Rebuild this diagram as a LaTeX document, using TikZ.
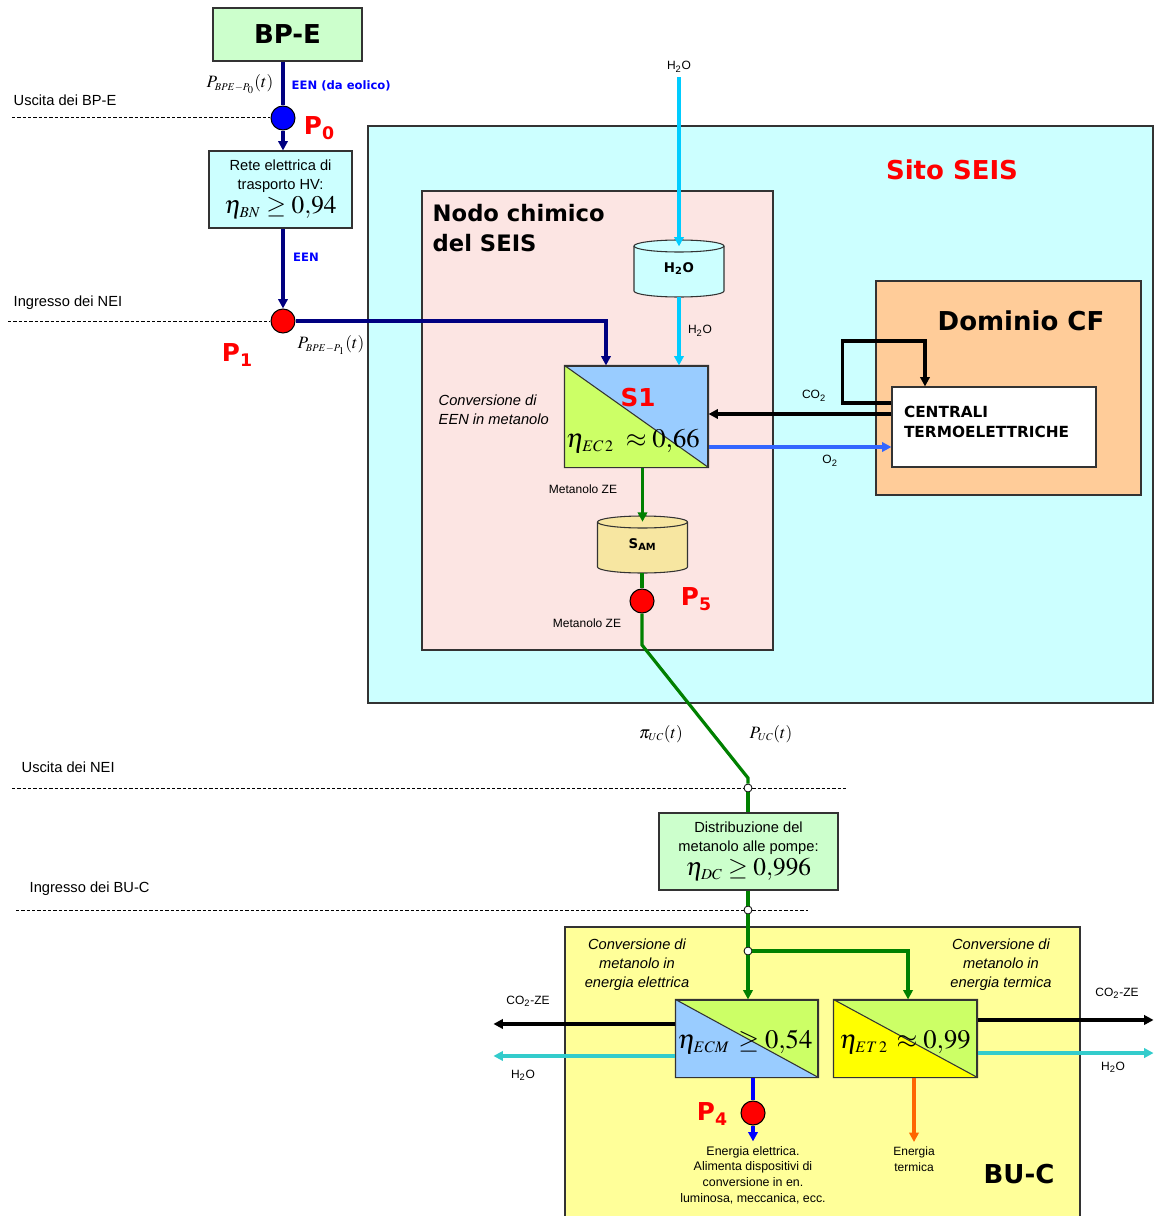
\documentclass[tikz,border=0pt]{standalone}
\usepackage{mathptmx}
\usepackage[no-math]{fontspec}
\setmainfont{Liberation Sans}
\newfontfamily\headfont{DejaVu Sans}
\usepackage{tikz}
\usetikzlibrary{positioning,arrows.meta}

\definecolor{verdino}{HTML}{CCFFCC}
\definecolor{celeste}{HTML}{CCFFFF}
\definecolor{rosa}{HTML}{FCE5E3}
\definecolor{pesca}{HTML}{FFCC99}
\definecolor{giallino}{HTML}{FFFF99}
\definecolor{azzurro}{HTML}{99CCFF}
\definecolor{verdelime}{HTML}{CCFF66}
\definecolor{sabbia}{HTML}{F7E6A1}
\definecolor{navy}{HTML}{000080}
\definecolor{cielo}{HTML}{00CCFF}
\definecolor{bluo}{HTML}{3366FF}
\definecolor{verde}{HTML}{008000}
\definecolor{acqua}{HTML}{33CCCC}
\definecolor{arancio}{HTML}{FF6600}
\definecolor{blu}{HTML}{0000FF}
\definecolor{rosso}{HTML}{FF0000}
\definecolor{giallo}{HTML}{FFFF00}

\newcommand{\nomeP}[1]{{\headfont\bfseries\color{rosso}\fontsize{18.5}{20}\selectfont P\raisebox{-0.22em}{\fontsize{13}{14}\selectfont #1}}}
\newcommand{\serbatoio}[4]{%
    \filldraw[fill=#4, draw=black!80, line width=0.8pt]
        (#1-45,#2) -- (#1-45,#3) arc[start angle=180, end angle=360, x radius=33.75pt, y radius=4.5pt]
        -- (#1+45,#2) arc[start angle=0, end angle=180, x radius=33.75pt, y radius=4.5pt] -- cycle;
    \draw[black!80, line width=0.8pt] (#1-45,#2) arc[start angle=180, end angle=360, x radius=33.75pt, y radius=4.5pt];}

\tikzset{
    box/.style={draw=black!80, line width=0.8pt, inner sep=2pt},
    flow/.style={line width=2.4pt},
    soglia/.style={dash pattern=on 2.5pt off 1.5pt, line width=0.75pt},
    punto/.style={circle, draw, line width=0.8pt, minimum size=18pt, inner sep=0pt},
    nodino/.style={circle, draw, fill=white, line width=0.6pt, minimum size=6pt, inner sep=0pt},
    titolo/.style={font=\headfont\bfseries\fontsize{19.5}{22}\selectfont},
    etich/.style={font=\fontsize{11}{14}\selectfont},
    corsivo/.style={font=\itshape\fontsize{11}{14.25}\selectfont},
    piccolo/.style={font=\fontsize{9}{11.8}\selectfont},
    sigla/.style={font=\headfont\bfseries\fontsize{8.7}{10}\selectfont, text=blu},
    formula/.style={font=\fontsize{20}{22}\selectfont},
    tempo/.style={font=\fontsize{13}{14}\selectfont}
}

\begin{document}
\begin{tikzpicture}[x=0.75pt, y=-0.75pt, >={Triangle[length=7pt,width=7pt]}]
    \useasboundingbox (0,0) rectangle (1154,1216);

    \draw[box, fill=celeste] (368,126) rectangle (1153,703);
    \draw[box, fill=rosa] (422,191) rectangle (773,650);
    \draw[box, fill=pesca] (876,281) rectangle (1141,495);
    \draw[box, fill=giallino] (565,927) rectangle (1080,1220);

    \node[titolo, text=rosso] (seis) at (952,170) {Sito SEIS};
    \node[font=\headfont\bfseries\fontsize{17}{22.5}\selectfont, align=left, anchor=west] (nodo) at (428,228) {Nodo chimico\\del SEIS};
    \node[titolo] (cf) at (1021,321) {Dominio CF};
    \node[titolo] (buc) at (1019,1174) {BU-C};

    \node[box, fill=verdino, minimum width=111.75pt, minimum height=39.75pt, titolo] (bpe) at (287.5,34.5) {BP-E};
    \node[punto, fill=blu] (P0) at (283,118) {};
    \node[box, fill=celeste, minimum width=107.25pt, minimum height=57.75pt, align=center, etich] (rete) at (280.5,189.5)
        {Rete elettrica di\\trasporto HV:\\[2pt]{\fontsize{19}{19}\selectfont$\eta_{\scriptscriptstyle BN}\geq 0{,}94$}};
    \node[punto, fill=rosso] (P1) at (283,321) {};
    \draw[flow, navy] (bpe.south -| P0) -- (P0);
    \draw[flow, navy, ->] (P0) -- (rete.north -| P0);
    \draw[flow, navy, ->] (rete.south -| P1) -- (P1);

    \node[tempo] (pbpe0) at (240,84) {$P_{\scriptscriptstyle BPE-P_0}(t)$};
    \node[sigla, anchor=west] (eolico) at (287,86) {EEN (da eolico)};
    \node (lp0) at (319,128) {\nomeP{0}};
    \node[sigla] (een) at (306,257) {EEN};
    \node (lp1) at (237,355) {\nomeP{1}};
    \node[tempo] (pbpe1) at (331,345) {$P_{\scriptscriptstyle BPE-P_1}(t)$};

    \node[etich, anchor=west] (ubpe) at (9,100) {Uscita dei BP-E};
    \node[etich, anchor=west] (inei) at (9,303) {Ingresso dei NEI};
    \node[etich, anchor=west] (unei) at (17,767) {Uscita dei NEI};
    \node[etich, anchor=west] (ibuc) at (25,889) {Ingresso dei BU-C};
    \draw[soglia] (12,118) -- (P0);
    \draw[soglia] (8,321) -- (P1);

    \serbatoio{679}{246}{291}{celeste}
    \serbatoio{642.5}{522}{567}{sabbia}
    \node[font=\headfont\bfseries\fontsize{10}{12}\selectfont, minimum width=67.5pt, minimum height=42.75pt] (cylH) at (679,268.5) {H\textsubscript{2}O};
    \node[font=\headfont\bfseries\fontsize{10}{12}\selectfont, minimum width=67.5pt, minimum height=42.75pt] (sam) at (642.5,544.5) {S\textsubscript{AM}};

    \node[box, fill=azzurro, minimum width=107.25pt, minimum height=75.75pt] (s1) at (636.5,416.5) {};
    \fill[verdelime] (s1.north west) -- (s1.south west) -- (s1.south east) -- cycle;
    \draw[black!80, line width=0.8pt] (s1.north west) -- (s1.south east) (s1.north west) rectangle (s1.south east);
    \node[font=\headfont\bfseries\fontsize{18.5}{20}\selectfont, text=rosso] (s1nome) at (638,398) {S1};
    \node[font=\fontsize{20}{22}\selectfont] (s1eta) at (633,441) {$\eta_{\scriptscriptstyle EC\,2}\;\approx 0{,}66$};
    \node[corsivo, align=left, anchor=west] (convs1) at (434,410) {Conversione di\\EEN in metanolo};

    \node[piccolo] (h2oin) at (679,67) {H\textsubscript{2}O};
    \draw[flow, cielo, ->] (h2oin) -- ([yshift=-5pt]cylH.north);
    \draw[flow, cielo, ->] (cylH.south) -- (cylH.south |- s1.north);
    \node[piccolo] (h2os1) at (700,331) {H\textsubscript{2}O};
    \draw[flow, navy, ->] (P1) -| ([xshift=-22.9pt]s1.north);

    \node[box, fill=white, minimum width=153pt, minimum height=60pt, text width=135pt, align=left,
        font=\headfont\bfseries\fontsize{11.5}{15}\selectfont] (centrali) at (994,427) {CENTRALI\\TERMOELETTRICHE\\[-7.5pt]\mbox{}};
    \coordinate (anello) at ([yshift=18pt]centrali.west);
    \coordinate (co2) at ([yshift=9.75pt]centrali.west);
    \coordinate (o2) at ([yshift=-15pt]centrali.west);
    \draw[flow, ->] (anello) -- ++(-49,0) -- ++(0,-62) -| ([xshift=-51.75pt]centrali.north);
    \draw[flow, ->] (co2) -- (co2 -| s1.east);
    \draw[flow, bluo, <-] (o2) -- (o2 -| s1.east);
    \node[piccolo] (lco2) at (814,396) {CO\textsubscript{2}};
    \node[piccolo] (lo2) at (830,461) {O\textsubscript{2}};

    \draw[flow, verde, ->] (s1.south -| sam) -- ([yshift=-4.5pt]sam.north);
    \node[piccolo] (mze1) at (583,489) {Metanolo ZE};
    \node[punto, fill=rosso] (P5) at (642,601) {};
    \draw[flow, verde] (sam.south -| P5) -- (P5);
    \node (lp5) at (696,599) {\nomeP{5}};
    \node[piccolo] (mze2) at (587,623) {Metanolo ZE};

    \node[nodino] (n1) at (748,788) {};
    \node[box, fill=verdino, minimum width=134.25pt, minimum height=57.75pt, align=center, etich] (dc) at (748.5,851.5)
        {Distribuzione del\\metanolo alle pompe:\\[2pt]{\fontsize{19}{19}\selectfont$\eta_{\scriptscriptstyle DC}\geq 0{,}996$}};
    \node[nodino] (n2) at (748,910) {};
    \node[nodino] (n3) at (748,951) {};
    \draw[flow, verde] (P5) -- (642,645) -- (748,778) -- (n1);
    \draw[flow, verde] (n1) -- (dc.north -| n1);
    \draw[flow, verde] (dc.south -| n2) -- (n2);
    \draw[flow, verde] (n2) -- (n3);
    \draw[soglia] (12,788) -- (n1) (n1) -- (848,788);
    \draw[soglia] (16,910) -- (n2) (n2) -- (808,910);
    \node[tempo] (pi) at (661,734) {$\pi_{\scriptscriptstyle UC}(t)$};
    \node[tempo] (puc) at (771,734) {$P_{\scriptscriptstyle UC}(t)$};

    \node[box, fill=verdelime, minimum width=106.5pt, minimum height=57.75pt] (ecm) at (747,1038.5) {};
    \fill[azzurro] (ecm.north west) -- (ecm.south west) -- (ecm.south east) -- cycle;
    \draw[black!80, line width=0.8pt] (ecm.north west) -- (ecm.south east) (ecm.north west) rectangle (ecm.south east);
    \node[formula] (ecmeta) at (745,1042) {$\eta_{\scriptscriptstyle ECM}\,\geq 0{,}54$};
    \node[box, fill=verdelime, minimum width=107.25pt, minimum height=57.75pt] (et2) at (905.5,1038.5) {};
    \fill[giallo] (et2.north west) -- (et2.south west) -- (et2.south east) -- cycle;
    \draw[black!80, line width=0.8pt] (et2.north west) -- (et2.south east) (et2.north west) rectangle (et2.south east);
    \node[formula] (et2eta) at (905,1042) {$\eta_{\scriptscriptstyle ET\,2}\,\approx 0{,}99$};
    \draw[flow, verde, ->] (n3) -- (ecm.north -| n3);
    \draw[flow, verde, ->] (n3) -| ([xshift=1.9pt]et2.north);

    \node[corsivo, align=center] (convel) at (637,965) {Conversione di\\metanolo in\\energia elettrica};
    \node[corsivo, align=center] (convte) at (1001,965) {Conversione di\\metanolo in\\energia termica};

    \draw[flow, ->] ([yshift=10.9pt]ecm.west) -- ++(-182,0);
    \draw[flow, acqua, ->] ([yshift=-13.1pt]ecm.west) -- ++(-182,0);
    \draw[flow, ->] ([yshift=13.9pt]et2.east) -- ++(176,0);
    \draw[flow, acqua, ->] ([yshift=-10.9pt]et2.east) -- ++(176,0);
    \node[piccolo] (co2zes) at (528,1001) {CO\textsubscript{2}-ZE};
    \node[piccolo] (h2os) at (523,1075) {H\textsubscript{2}O};
    \node[piccolo] (co2zed) at (1117,993) {CO\textsubscript{2}-ZE};
    \node[piccolo] (h2od) at (1113,1067) {H\textsubscript{2}O};

    \node[punto, fill=rosso] (P4) at (753,1113) {};
    \node (lp4) at (712,1114) {\nomeP{4}};
    \node[piccolo, align=center, font=\fontsize{9.3}{11.8}\selectfont] (eltxt) at (753,1175)
        {Energia elettrica.\\Alimenta dispositivi di\\conversione in en.\\luminosa, meccanica, ecc.};
    \node[piccolo, align=center] (termtxt) at (914,1159) {Energia\\termica};
    \draw[flow, blu] (ecm.south -| P4) -- (P4);
    \draw[flow, blu, ->] (P4) -- (eltxt.north -| P4);
    \draw[flow, arancio, ->] (et2.south -| termtxt) -- (termtxt.north);
\end{tikzpicture}
\end{document}
